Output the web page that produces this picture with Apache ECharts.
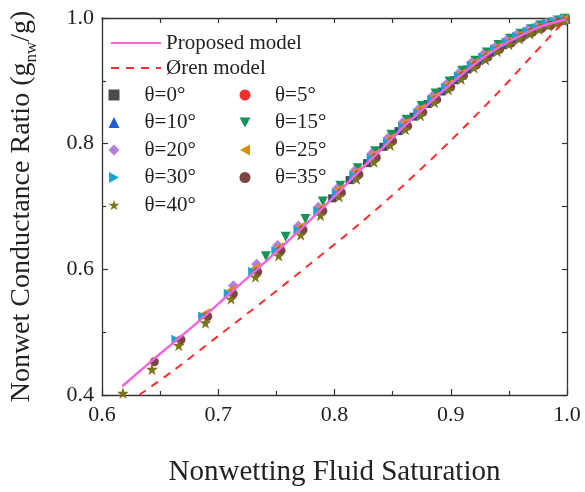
<!DOCTYPE html>
<html>
<head>
<meta charset="utf-8">
<script src="https://cdn.jsdelivr.net/npm/echarts@6/dist/echarts.min.js"></script>
<style>html,body{margin:0;padding:0;background:#fff}#c{width:585px;height:492px}</style>
</head>
<body>
<div id="c"></div>
<script>
// ---- data ----
const xTicks = [0.6, 0.7, 0.8, 0.9, 1.0];
const yTicks = [0.4, 0.6, 0.8, 1.0];

const proposedModel = [[0.6175,0.414],[0.62,0.418],[0.64,0.450],[0.66,0.481],[0.68,0.512],[0.70,0.545],[0.72,0.578],[0.74,0.611],[0.76,0.645],[0.78,0.680],[0.80,0.716],[0.82,0.754],[0.84,0.790],[0.86,0.828],[0.88,0.862],[0.90,0.895],[0.92,0.926],[0.94,0.952],[0.96,0.972],[0.98,0.988],[1.00,0.998]];
const orenModel = [[0.632,0.400],[0.66,0.437],[0.70,0.494],[0.74,0.551],[0.78,0.610],[0.82,0.670],[0.86,0.735],[0.90,0.805],[0.94,0.880],[0.97,0.940],[1.00,1.000]];

const theta0 = [[0.798,0.713],[0.813,0.742],[0.828,0.769],[0.842,0.795],[0.855,0.820],[0.868,0.843],[0.880,0.863],[0.892,0.883],[0.903,0.901],[0.914,0.918],[0.924,0.932],[0.934,0.945],[0.944,0.957],[0.953,0.966],[0.962,0.974],[0.970,0.981],[0.978,0.987],[0.986,0.992],[0.993,0.995],[0.999,0.998]];
const theta5 = [[0.803,0.725],[0.818,0.753],[0.833,0.780],[0.847,0.806],[0.860,0.831],[0.873,0.853],[0.885,0.873],[0.897,0.893],[0.908,0.910],[0.919,0.927],[0.929,0.941],[0.939,0.953],[0.949,0.964],[0.958,0.973],[0.967,0.980],[0.975,0.987],[0.983,0.992],[0.990,0.995],[0.996,0.998]];
const theta10 = [[0.800,0.720],[0.815,0.749],[0.830,0.776],[0.844,0.802],[0.857,0.826],[0.870,0.849],[0.882,0.869],[0.894,0.889],[0.905,0.907],[0.916,0.924],[0.926,0.938],[0.936,0.951],[0.946,0.962],[0.955,0.971],[0.964,0.979],[0.972,0.985],[0.980,0.991],[0.987,0.994],[0.994,0.997],[0.999,0.999]];
const theta15 = [[0.741,0.621],[0.758,0.652],[0.775,0.680],[0.790,0.708],[0.805,0.733],[0.820,0.761],[0.835,0.788],[0.849,0.814],[0.862,0.838],[0.875,0.860],[0.887,0.880],[0.899,0.899],[0.910,0.916],[0.921,0.932],[0.931,0.945],[0.941,0.957],[0.951,0.967],[0.960,0.975],[0.969,0.982],[0.977,0.988],[0.985,0.992],[0.992,0.996],[0.998,0.999]];
const theta20 = [[0.713,0.574],[0.733,0.608],[0.751,0.638],[0.769,0.669],[0.786,0.699],[0.802,0.728],[0.817,0.756],[0.832,0.784],[0.846,0.809],[0.859,0.834],[0.872,0.854],[0.884,0.875],[0.896,0.894],[0.907,0.912],[0.918,0.929],[0.928,0.942],[0.938,0.953],[0.948,0.964],[0.957,0.973],[0.966,0.981],[0.974,0.986],[0.982,0.991],[0.989,0.995],[0.996,0.998]];
const theta25 = [[0.689,0.530],[0.711,0.567],[0.732,0.602],[0.752,0.635],[0.771,0.668],[0.788,0.698],[0.804,0.728],[0.819,0.756],[0.834,0.783],[0.848,0.809],[0.861,0.834],[0.874,0.856],[0.886,0.875],[0.898,0.895],[0.909,0.912],[0.920,0.929],[0.930,0.942],[0.940,0.954],[0.950,0.964],[0.959,0.973],[0.968,0.980],[0.976,0.987],[0.984,0.991],[0.991,0.995],[0.997,0.998]];
const theta30 = [[0.664,0.488],[0.687,0.525],[0.709,0.561],[0.730,0.596],[0.750,0.629],[0.769,0.662],[0.786,0.692],[0.802,0.720],[0.817,0.748],[0.832,0.776],[0.846,0.801],[0.859,0.826],[0.872,0.848],[0.884,0.869],[0.896,0.889],[0.907,0.907],[0.918,0.924],[0.928,0.937],[0.938,0.950],[0.948,0.961],[0.957,0.970],[0.966,0.978],[0.974,0.984],[0.982,0.990],[0.989,0.994],[0.996,0.997]];
const theta35 = [[0.645,0.453],[0.668,0.488],[0.691,0.525],[0.713,0.561],[0.734,0.596],[0.754,0.630],[0.773,0.663],[0.790,0.693],[0.806,0.722],[0.821,0.751],[0.836,0.778],[0.850,0.804],[0.863,0.828],[0.876,0.850],[0.888,0.870],[0.900,0.890],[0.911,0.908],[0.922,0.925],[0.932,0.938],[0.942,0.950],[0.952,0.960],[0.961,0.969],[0.970,0.977],[0.978,0.983],[0.986,0.988],[0.993,0.993]];
const theta40 = [[0.618,0.403],[0.643,0.441],[0.666,0.479],[0.689,0.515],[0.711,0.553],[0.732,0.588],[0.752,0.622],[0.771,0.655],[0.788,0.686],[0.804,0.716],[0.819,0.744],[0.834,0.771],[0.848,0.798],[0.861,0.823],[0.874,0.845],[0.886,0.866],[0.898,0.886],[0.909,0.903],[0.920,0.921],[0.930,0.934],[0.940,0.947],[0.950,0.958],[0.959,0.967],[0.968,0.975],[0.976,0.982],[0.984,0.988],[0.991,0.992],[0.997,0.996]];

const FONT = 'Liberation Serif';
const STAR = 'path://M50,0 L61,35 L98,35 L68,57 L79,91 L50,70 L21,91 L32,57 L2,35 L39,35 Z';
const TRI_DOWN = 'path://M0,0 L10,0 L5,9 Z';
const TRI_LEFT = 'path://M9,0 L9,10 L0,5 Z';
const TRI_RIGHT = 'path://M0,0 L0,10 L9,5 Z';

const scatterDefs = [
  {name:'θ=0°',  data:theta0,  symbol:'rect',     size:8,  color:'#4a4a4a'},
  {name:'θ=5°',  data:theta5,  symbol:'circle',   size:9,  color:'#f0302f'},
  {name:'θ=10°', data:theta10, symbol:'triangle', size:10, color:'#1f5bd6'},
  {name:'θ=15°', data:theta15, symbol:TRI_DOWN,   size:10, color:'#139459'},
  {name:'θ=20°', data:theta20, symbol:'diamond',  size:11, color:'#b47fdc'},
  {name:'θ=25°', data:theta25, symbol:TRI_LEFT,   size:10, color:'#d98e0c'},
  {name:'θ=30°', data:theta30, symbol:TRI_RIGHT,  size:10, color:'#1aa3cf'},
  {name:'θ=35°', data:theta35, symbol:'circle',   size:9,  color:'#7b4644'},
  {name:'θ=40°', data:theta40, symbol:STAR,       size:12, color:'#7c7418'}
];

const series = scatterDefs.map(d => ({
  name: d.name, type: 'scatter', data: d.data, symbol: d.symbol,
  symbolSize: d.size, itemStyle: {color: d.color, opacity: 1}, z: 2, silent: true
}));
series.push({
  name: 'Proposed model', type: 'line', data: proposedModel, smooth: 0.3, symbol: 'none',
  lineStyle: {color: '#f266dc', width: 2.5}, itemStyle: {color: '#f266dc'}, z: 4, silent: true
});
series.push({
  name: 'Øren model', type: 'line', data: orenModel, smooth: 0.3, symbol: 'none',
  lineStyle: {color: '#ff2d2d', width: 2, type: [8, 7]}, itemStyle: {color: '#ff2d2d'}, z: 4, silent: true
});

const legendText = {fontFamily: FONT, fontSize: 21, color: '#222', lineHeight: 21};
const axisLine = {show: true, lineStyle: {color: '#333', width: 1.3}};

function symLegend(names, left, pad) {
  return {
    data: names.map(n => {
      const d = scatterDefs.find(s => s.name === n);
      return {name: n, icon: d.symbol, itemStyle: {color: d.color}};
    }),
    orient: 'vertical', left: left, top: 79.5, itemWidth: 11, itemHeight: 11, itemGap: 6.5,
    textStyle: Object.assign({padding: [0, 0, 0, pad]}, legendText), selectedMode: false
  };
}

const option = {
  animation: false,
  backgroundColor: '#fff',
  textStyle: {fontFamily: FONT},
  grid: {left: 87, right: 18, top: 18, bottom: 86, containLabel: false},
  legend: [
    {data: [{name: 'Proposed model', itemStyle: {opacity: 0}}, {name: 'Øren model', itemStyle: {opacity: 0}}],
     orient: 'vertical', left: 105, top: 27.5,
     itemWidth: 50, itemHeight: 12, itemGap: 4, textStyle: legendText, selectedMode: false},
    symLegend(['θ=0°', 'θ=10°', 'θ=20°', 'θ=30°', 'θ=40°'], 103.5, 20),
    symLegend(['θ=5°', 'θ=15°', 'θ=25°', 'θ=35°'], 234.5, 19.5)
  ],
  xAxis: [
    {type: 'value', min: xTicks[0], max: xTicks[xTicks.length-1], interval: 0.1, position: 'bottom',
     name: 'Nonwetting Fluid Saturation', nameLocation: 'middle', nameGap: 63,
     nameTextStyle: {fontFamily: FONT, fontSize: 29, color: '#222'},
     axisLine: axisLine, axisTick: {inside: true, length: 6, lineStyle: {color: '#333', width: 1.2}},
     minorTick: {show: true, splitNumber: 2, length: 4, lineStyle: {color: '#333', width: 1.2}},
     axisLabel: {fontFamily: FONT, fontSize: 22, color: '#222', margin: 9, formatter: v => v.toFixed(1)},
     splitLine: {show: false}},
    {type: 'value', min: xTicks[0], max: xTicks[xTicks.length-1], interval: 0.1, position: 'top',
     axisLine: axisLine, axisTick: {inside: true, length: 5, lineStyle: {color: '#333', width: 1.2}},
     minorTick: {show: true, splitNumber: 2, length: 5, lineStyle: {color: '#333', width: 1.2}},
     axisLabel: {show: false}, splitLine: {show: false}}
  ],
  yAxis: [
    {type: 'value', min: yTicks[0], max: yTicks[yTicks.length-1], interval: 0.2, position: 'left',
     name: '{a|Nonwet Conductance Ratio (g}{b|nw}{a|/g)}', nameLocation: 'middle', nameGap: 62,
     nameTextStyle: {fontFamily: FONT, color: '#222',
       rich: {a: {fontFamily: FONT, fontSize: 28, color: '#222', lineHeight: 36, verticalAlign: 'middle'},
              b: {fontFamily: FONT, fontSize: 17, color: '#222', lineHeight: 18, verticalAlign: 'bottom'}}},
     axisLine: axisLine, axisTick: {inside: true, length: 6, lineStyle: {color: '#333', width: 1.2}},
     minorTick: {show: true, splitNumber: 2, length: 4, lineStyle: {color: '#333', width: 1.2}},
     axisLabel: {fontFamily: FONT, fontSize: 22, color: '#222', margin: 8, formatter: v => v.toFixed(1)},
     splitLine: {show: false}},
    {type: 'value', min: yTicks[0], max: yTicks[yTicks.length-1], interval: 0.2, position: 'right',
     axisLine: axisLine, axisTick: {inside: true, length: 5, lineStyle: {color: '#333', width: 1.2}},
     minorTick: {show: true, splitNumber: 2, length: 5, lineStyle: {color: '#333', width: 1.2}},
     axisLabel: {show: false}, splitLine: {show: false}}
  ],
  series: series
};

const chart = echarts.init(document.getElementById('c'), null, {renderer: 'canvas'});
chart.setOption(option);
</script>
</body>
</html>
